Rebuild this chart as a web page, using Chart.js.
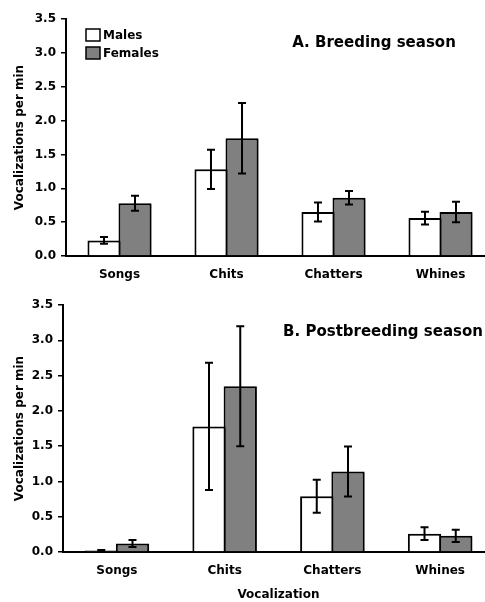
<!DOCTYPE html>
<html><head><meta charset="utf-8">
<script src="https://cdn.jsdelivr.net/npm/chart.js@4.4.0/dist/chart.umd.min.js"></script>
<style>
html,body{margin:0;padding:0;background:#fff;overflow:hidden;width:485px;height:602px;}
canvas{position:absolute;left:0;}
</style></head><body>
<canvas id="c1" width="494" height="290" style="top:0px"></canvas>
<canvas id="c2" width="494" height="312" style="top:290px"></canvas>
<script>
const categories = ['Songs', 'Chits', 'Chatters', 'Whines'];
const seriesNames = ['Males', 'Females'];
const yTickValues = [0, 0.5, 1.0, 1.5, 2.0, 2.5, 3.0, 3.5];

// A. Breeding season
const breedMales = [0.23, 1.28, 0.65, 0.56];
const breedMalesErr = [0.05, 0.29, 0.14, 0.095];
const breedFemales = [0.78, 1.74, 0.86, 0.65];
const breedFemalesErr = [0.11, 0.52, 0.10, 0.15];

// B. Postbreeding season
const postMales = [0.02, 1.78, 0.79, 0.26];
const postMalesErr = [0.01, 0.90, 0.235, 0.09];
const postFemales = [0.12, 2.35, 1.14, 0.23];
const postFemalesErr = [0.05, 0.85, 0.355, 0.087];

const FONT = 'DejaVu Sans';
const maleColor = '#ffffff';
const femaleColor = '#808080';

const shadowPlugin = {
  id: 'barShadow',
  beforeDatasetsDraw(chart) {
    const ctx = chart.ctx;
    ctx.save();
    ctx.shadowColor = 'rgba(0,0,0,0.35)';
    ctx.shadowOffsetX = 2;
    ctx.shadowOffsetY = 1;
    ctx.shadowBlur = 1;
  },
  afterDatasetsDraw(chart) {
    chart.ctx.restore();
  }
};

const errorBars = {
  id: 'errorBars',
  afterDatasetsDraw(chart) {
    const ctx = chart.ctx, y = chart.scales.y;
    chart.data.datasets.forEach((ds, i) => {
      const meta = chart.getDatasetMeta(i);
      meta.data.forEach((bar, j) => {
        const v = ds.data[j], e = ds.errors[j];
        const yh = y.getPixelForValue(v + e), yl = y.getPixelForValue(Math.max(0, v - e));
        ctx.save();
        ctx.strokeStyle = '#000';
        ctx.lineWidth = 2;
        ctx.beginPath();
        ctx.moveTo(bar.x, yh); ctx.lineTo(bar.x, yl);
        ctx.moveTo(bar.x - 4, yh); ctx.lineTo(bar.x + 4, yh);
        ctx.moveTo(bar.x - 4, yl); ctx.lineTo(bar.x + 4, yl);
        ctx.stroke();
        ctx.restore();
      });
    });
  }
};

const annotations = {
  id: 'annotations',
  afterDraw(chart, args, opts) {
    const ctx = chart.ctx;
    ctx.save();
    ctx.fillStyle = '#000';
    ctx.font = 'bold 15px "' + FONT + '"';
    ctx.textAlign = 'center';
    ctx.textBaseline = 'middle';
    ctx.fillText(opts.title, opts.titleX, opts.titleY);
    if (opts.legend) {
      ctx.font = 'bold 12px "' + FONT + '"';
      ctx.textAlign = 'left';
      chart.data.datasets.forEach((ds, i) => {
        const by = opts.legendY + i * 18;
        ctx.fillStyle = ds.backgroundColor;
        ctx.fillRect(opts.legendX, by, 14, 12);
        ctx.strokeStyle = '#000';
        ctx.lineWidth = 1.5;
        ctx.strokeRect(opts.legendX, by, 14, 12);
        ctx.fillStyle = '#000';
        ctx.fillText(ds.label, opts.legendX + 17, by + 6.5);
      });
    }
    ctx.restore();
  }
};

function makeChart(id, males, malesErr, females, femalesErr, cfg) {
  return new Chart(document.getElementById(id), {
    type: 'bar',
    data: {
      labels: categories,
      datasets: [
        { label: seriesNames[0], data: males, errors: malesErr, backgroundColor: maleColor,
          borderColor: '#000', borderWidth: 2, borderSkipped: 'bottom' },
        { label: seriesNames[1], data: females, errors: femalesErr, backgroundColor: femaleColor,
          borderColor: '#000', borderWidth: 2, borderSkipped: 'bottom' }
      ]
    },
    options: {
      responsive: false,
      animation: false,
      devicePixelRatio: 1,
      layout: { padding: { top: cfg.top, left: 0, right: 0, bottom: 0 } },
      datasets: { bar: { categoryPercentage: 0.58, barPercentage: 1.065 } },
      plugins: {
        legend: { display: false },
        tooltip: { enabled: false },
        annotations: cfg.ann
      },
      scales: {
        x: {
          grid: { display: false, drawTicks: false },
          border: { display: true, color: '#000', width: 2 },
          ticks: { color: '#000', padding: cfg.xPad, font: { family: FONT, size: 12, weight: 'bold' } },
          title: cfg.xTitle ? { display: true, text: cfg.xTitle, color: '#000',
            padding: { top: 0, bottom: 0 }, font: { family: FONT, size: 12, weight: 'bold' } } : { display: false },
          afterFit(s) { s.height = cfg.xHeight; }
        },
        y: {
          min: 0, max: 3.5,
          afterBuildTicks(s) { s.ticks = yTickValues.map(v => ({ value: v })); },
          grid: { display: true, drawOnChartArea: false, drawTicks: true, tickLength: 5, color: '#000', lineWidth: 1.5 },
          border: { display: true, color: '#000', width: 2 },
          ticks: { color: '#000', padding: 5, font: { family: FONT, size: 12, weight: 'bold' },
            callback: v => Number(v).toFixed(1) },
          title: { display: true, text: 'Vocalizations per min', color: '#000',
            padding: { top: 13, bottom: 0 }, font: { family: FONT, size: 12, weight: 'bold' } },
          afterFit(s) { s.width = cfg.left; }
        }
      }
    },
    plugins: [shadowPlugin, errorBars, annotations]
  });
}

makeChart('c1', breedMales, breedMalesErr, breedFemales, breedFemalesErr, {
  top: 19, left: 66, xHeight: 34, xPad: 12,
  ann: { title: 'A. Breeding season', titleX: 374, titleY: 43, legend: true, legendX: 86, legendY: 29 }
});
makeChart('c2', postMales, postMalesErr, postFemales, postFemalesErr, {
  top: 15, left: 63, xHeight: 50, xPad: 12, xTitle: 'Vocalization',
  ann: { title: 'B. Postbreeding season', titleX: 383, titleY: 42, legend: false }
});
</script>
</body></html>
